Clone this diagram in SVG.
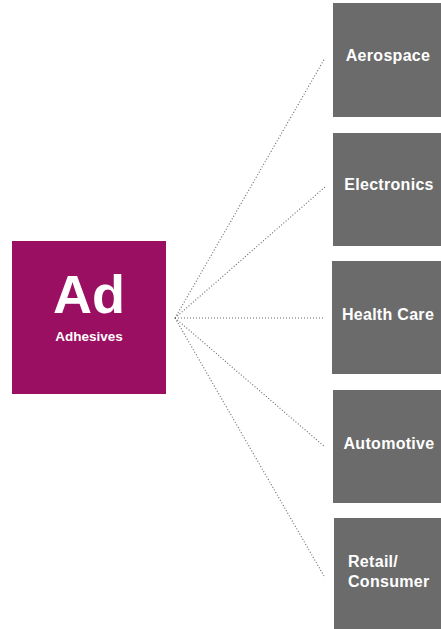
<svg xmlns="http://www.w3.org/2000/svg" width="441" height="629" viewBox="0 0 441 629">
<style>
.bg{fill:#ffffff}
.hub{fill:#9b0f62}
.box{fill:#6b6b6b}
.lbl{font-family:"Liberation Sans","Noto Sans",Arial,sans-serif;font-weight:bold;fill:#ffffff;text-anchor:middle}
.lbl16{font-size:16px;letter-spacing:0.3px}
.left{text-anchor:start}
.conn line{stroke:#666666;stroke-width:1.1;stroke-dasharray:1 2;fill:none}
</style>
<rect class="bg" x="0" y="0" width="441" height="629"/>
<g id="connectors" class="conn">
<line x1="175" y1="318" x2="325" y2="58"/>
<line x1="175" y1="318" x2="325" y2="187"/>
<line x1="175" y1="318" x2="325" y2="318"/>
<line x1="175" y1="318" x2="325" y2="447"/>
<line x1="175" y1="318" x2="324" y2="576"/>
</g>
<g id="adhesives">
<rect class="hub" x="12" y="241" width="154" height="153"/>
<text class="lbl" x="89" y="313" font-size="54">Ad</text>
<text class="lbl" x="89" y="341" font-size="13.5">Adhesives</text>
</g>
<g id="aerospace">
<rect class="box" x="333" y="3" width="108" height="114"/>
<text class="lbl lbl16" x="388" y="61">Aerospace</text>
</g>
<g id="electronics">
<rect class="box" x="333" y="133" width="108" height="113"/>
<text class="lbl lbl16" x="389" y="190">Electronics</text>
</g>
<g id="healthcare">
<rect class="box" x="332" y="261" width="109" height="113"/>
<text class="lbl lbl16" x="388" y="320">Health Care</text>
</g>
<g id="automotive">
<rect class="box" x="333" y="390" width="108" height="113"/>
<text class="lbl lbl16" x="389" y="449">Automotive</text>
</g>
<g id="retail">
<rect class="box" x="334" y="518" width="107" height="111"/>
<text class="lbl lbl16 left" x="348" y="567">Retail/</text>
<text class="lbl lbl16 left" x="348" y="587">Consumer</text>
</g>
</svg>
